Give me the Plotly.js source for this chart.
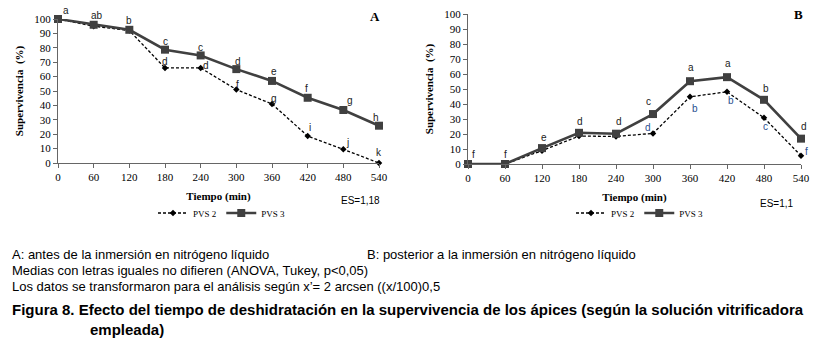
<!DOCTYPE html>
<html><head><meta charset="utf-8">
<script src="https://cdn.plot.ly/plotly-3.0.1.min.js"></script>
<style>html,body{margin:0;padding:0;background:#fff}#chart{width:829px;height:345px}</style>
</head><body><div id="chart"></div>
<script>
// ---------- data ----------
const tiempo = [0, 60, 120, 180, 240, 300, 360, 420, 480, 540];
const tickLabelsX = ['0','60','120','180','240','300','360','420','480','540'];
const tickValsY = [0,10,20,30,40,50,60,70,80,90,100];

// Panel A: antes de la inmersión
const A_pvs2 = [100, 95, 92, 66, 66, 51, 41, 18.7, 9.5, 0];
const A_pvs3 = [100, 96, 92.5, 78.7, 74.7, 65.2, 57, 45.3, 36.8, 25.9];
const A_let3 = ['a','ab','b','c','c','d','e','f','g','h'];
const A_let2 = ['','','','d','d','f','g','i','j','k'];

// Panel B: posterior a la inmersión
const B_pvs2 = [0, 0, 8.9, 18.6, 18.4, 20.4, 44.8, 48.1, 30.8, 5.5];
const B_pvs3 = [0, 0, 10.6, 20.8, 20.2, 33.3, 55.2, 57.9, 42.8, 16.9];
const B_let3 = ['f','f','e','d','d','c','a','a','b','d'];
const B_let2 = ['','','','','','d','b','b','c','f'];

// ---------- label offsets (px) ----------
const A_off3 = [[8,-8],[3,-9],[0,-9],[0,-8],[0,-8],[2,-8],[2,-9],[-1,-9],[7,-10],[-3,-8]];
const A_off2 = [[0,0],[0,0],[0,0],[0,-6],[5,-2],[1,-5],[2,-5],[2,-9],[4,-7],[0,-11]];
const B_off3 = [[5,-10],[0,-10],[2,-11],[1,-11],[3,-12],[-5,-13],[1,-14],[1,-14],[2,-11],[3,-12]];
const B_off2 = [[0,0],[0,0],[0,0],[0,0],[0,0],[-5,-6],[5,12],[4,9],[1,9],[5,-4]];

const serif = 'Liberation Serif';
const sans = 'Liberation Sans';
const W = 829, H = 345;

function pvs2(x, y, xa, ya, leg) {
  return {x, y, xaxis: xa, yaxis: ya, legend: leg, name: 'PVS 2', type: 'scatter', mode: 'lines+markers',
    line: {color: '#000', width: 1.3, dash: '3px,2px'},
    marker: {symbol: 'diamond', size: 5, color: '#000'}, cliponaxis: false};
}
function pvs3(x, y, xa, ya, leg) {
  return {x, y, xaxis: xa, yaxis: ya, legend: leg, name: 'PVS 3', type: 'scatter', mode: 'lines+markers',
    line: {color: '#404040', width: 2.6},
    marker: {symbol: 'square', size: 8, color: '#404040'}, cliponaxis: false};
}
const data = [
  pvs2(tiempo, A_pvs2, 'x', 'y', 'legend'),
  pvs3(tiempo, A_pvs3, 'x', 'y', 'legend'),
  pvs2(tiempo, B_pvs2, 'x2', 'y2', 'legend2'),
  pvs3(tiempo, B_pvs3, 'x2', 'y2', 'legend2')
];

const annotations = [];
function addLetters(vals, lets, offs, xref, yref, color) {
  vals.forEach((v, i) => {
    if (!lets[i]) return;
    annotations.push({x: tiempo[i], y: v, xref, yref, text: lets[i], showarrow: false,
      xshift: offs[i][0], yshift: -offs[i][1], font: {family: sans, size: 10, color}});
  });
}
addLetters(A_pvs3, A_let3, A_off3, 'x', 'y', '#222');
addLetters(A_pvs2, A_let2, A_off2, 'x', 'y', '#222');
addLetters(B_pvs3, B_let3, B_off3, 'x2', 'y2', '#222');
addLetters(B_pvs2, B_let2, B_off2, 'x2', 'y2', '#2a4f8f');

function paperTxt(px, py, text, font, xanchor, yanchor) {
  annotations.push({xref: 'paper', yref: 'paper', x: px / W, y: 1 - py / H, text, showarrow: false,
    xanchor: xanchor || 'left', yanchor: yanchor || 'middle', font, align: 'left'});
}
paperTxt(375, 16, '<b>A</b>', {family: serif, size: 13, color: '#000'}, 'center');
paperTxt(798, 15, '<b>B</b>', {family: serif, size: 13, color: '#000'}, 'center');
paperTxt(360, 200, 'ES=1,18', {family: sans, size: 10, color: '#000'}, 'center');
paperTxt(777, 203, 'ES=1,1', {family: sans, size: 10, color: '#000'}, 'center');
const note = {family: sans, size: 13, color: '#000'};
paperTxt(10, 254, 'A: antes de la inmersión en nitrógeno líquido', note);
paperTxt(365, 254, 'B: posterior a la inmersión en nitrógeno líquido', note);
paperTxt(10, 270, 'Medias con letras iguales no difieren (ANOVA, Tukey, p&lt;0,05)', note);
paperTxt(10, 286, 'Los datos se transformaron para el análisis según x’= 2 arcsen ((x/100)0,5', note);
const fig = {family: sans, size: 15, color: '#000'};
paperTxt(10, 309, '<b>Figura 8. Efecto del tiempo de deshidratación en la supervivencia de los ápices (según la solución vitrificadora</b>', fig);
paperTxt(88, 329, '<b>empleada)</b>', fig);

function xax(domain) {
  return {domain, range: [0, 540], tickvals: tiempo, ticktext: tickLabelsX, showgrid: false, zeroline: false,
    showline: true, linecolor: '#666', linewidth: 1, ticks: 'outside', ticklen: 4, tickcolor: '#666',
    tickfont: {family: serif, size: 11, color: '#000'},
    title: {text: '<b>Tiempo (min)</b>', font: {family: serif, size: 11, color: '#000'}, standoff: 10},
    automargin: false, fixedrange: true};
}
function yax(domain, xa) {
  return {domain, range: [0, 100], tickvals: tickValsY, anchor: xa, showgrid: false, zeroline: false,
    showline: true, linecolor: '#666', linewidth: 1, ticks: 'outside', ticklen: 4, tickcolor: '#666',
    tickfont: {family: serif, size: 11, color: '#000'},
    title: {text: '<b>Supervivencia  (%)</b>', font: {family: serif, size: 11, color: '#000'}, standoff: 8},
    automargin: false, fixedrange: true};
}
const legFont = {family: serif, size: 9, color: '#000'};
const layout = {
  width: W, height: H, margin: {l: 0, r: 0, t: 0, b: 0}, paper_bgcolor: '#fff', plot_bgcolor: 'rgba(0,0,0,0)',
  showlegend: true,
  xaxis: Object.assign(xax([58 / W, 379 / W]), {anchor: 'y'}),
  yaxis: yax([1 - 163 / H, 1 - 19 / H], 'x'),
  xaxis2: Object.assign(xax([468 / W, 801 / W]), {anchor: 'y2'}),
  yaxis2: yax([1 - 164 / H, 1 - 14 / H], 'x2'),
  legend: {orientation: 'h', x: 222 / W, y: 1 - 213 / H, xanchor: 'center', yanchor: 'middle',
    font: legFont, itemwidth: 30, bgcolor: 'rgba(0,0,0,0)'},
  legend2: {orientation: 'h', x: 640 / W, y: 1 - 213 / H, xanchor: 'center', yanchor: 'middle',
    font: legFont, itemwidth: 30, bgcolor: 'rgba(0,0,0,0)'},
  annotations
};
Plotly.newPlot('chart', data, layout, {staticPlot: true, displayModeBar: false});
</script></body></html>
